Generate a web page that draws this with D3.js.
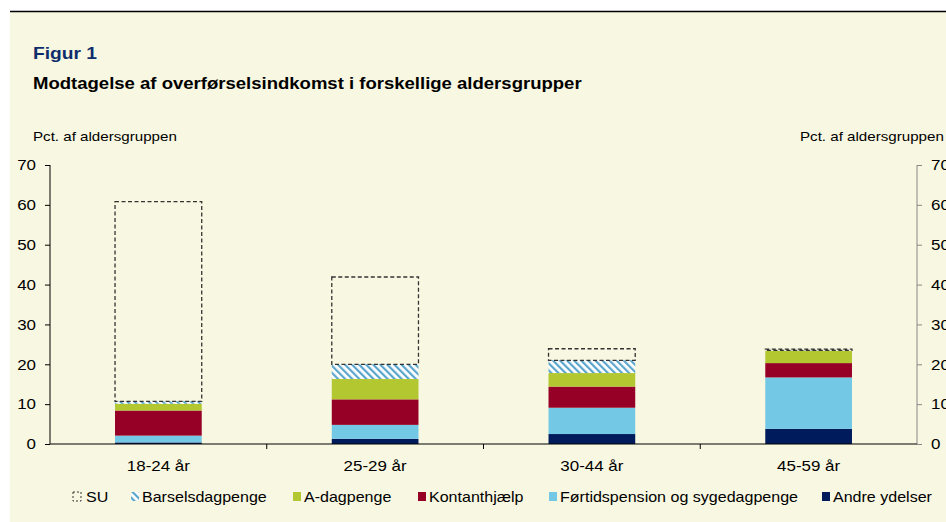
<!DOCTYPE html>
<html>
<head>
<meta charset="utf-8">
<script src="https://cdn.jsdelivr.net/npm/d3@7"></script>
<style>
  body { margin: 0; background: #fff; }
  svg { display: block; font-family: "Liberation Sans", Arial, sans-serif; }
</style>
</head>
<body>
<div id="chart"></div>
<script>
// data (pct. of age group)
var groups = ["18-24 år", "25-29 år", "30-44 år", "45-59 år"];
var andre = [0.4, 1.3, 2.5, 3.8];
var foertid = [1.7, 3.5, 6.6, 12.9];
var kontant = [6.3, 6.4, 5.3, 3.6];
var adag = [1.7, 5.1, 3.4, 3.1];
var barsel = [0.6, 3.7, 3.2, 0.1];
var su = [50.1, 21.9, 2.9, 0.3];
var seriesNames = ["Andre ydelser", "Førtidspension og sygedagpenge", "Kontanthjælp", "A-dagpenge", "Barselsdagpenge", "SU"];
var yTicks = [0, 10, 20, 30, 40, 50, 60, 70];

var colors = ["#001b5b", "#73c8e6", "#960027", "#b2c730", "url(#hatch)", "none"];

var W = 946, H = 522;
var plotLeft = 50, plotRight = 917, plotTop = 165, plotBottom = 444;
var stretch = 1.13; // reference text is a bit wider than Liberation Sans

var svg = d3.select("#chart").append("svg")
  .attr("width", W).attr("height", H);

// hatch for Barselsdagpenge
var defs = svg.append("defs");
var pat = defs.append("pattern")
  .attr("id", "hatch")
  .attr("patternUnits", "userSpaceOnUse")
  .attr("width", 5).attr("height", 5)
  .attr("patternTransform", "rotate(-45)");
pat.append("rect").attr("width", 5).attr("height", 5).attr("fill", "#ffffff");
pat.append("rect").attr("width", 2.2).attr("height", 5).attr("fill", "#5aa5cc");

// background panel
svg.append("rect")
  .attr("x", 10).attr("y", 11).attr("width", W - 10).attr("height", H - 11)
  .attr("fill", "#f8f7e1");
svg.append("line")
  .attr("x1", 10).attr("x2", W).attr("y1", 11.5).attr("y2", 11.5)
  .attr("stroke", "#000").attr("stroke-width", 1.5);

// titles
svg.append("text").attr("x", 33).attr("y", 59)
  .attr("font-size", 17).attr("font-weight", "bold").attr("fill", "#0f2d6b")
  .text("Figur 1");
svg.append("text").attr("x", 33).attr("y", 89)
  .attr("font-size", 16.4).attr("font-weight", "bold").attr("fill", "#000")
  .text("Modtagelse af overførselsindkomst i forskellige aldersgrupper");
svg.append("text").attr("x", 33).attr("y", 141)
  .attr("font-size", 13.4).attr("fill", "#000")
  .text("Pct. af aldersgruppen");
svg.append("text").attr("x", 800).attr("y", 141)
  .attr("font-size", 13.4).attr("fill", "#000")
  .text("Pct. af aldersgruppen");

// scales
var x = d3.scaleBand().domain(groups).range([plotLeft, plotRight]).paddingInner(0.6).paddingOuter(0.3);
var y = d3.scaleLinear().domain([0, 70]).range([plotBottom, plotTop]);

// stacked data
var rows = groups.map(function(g, i) {
  return {group: g, s0: andre[i], s1: foertid[i], s2: kontant[i], s3: adag[i], s4: barsel[i], s5: su[i]};
});
var stack = d3.stack().keys(["s0", "s1", "s2", "s3", "s4", "s5"])(rows);

var layers = svg.selectAll(".layer")
  .data(stack)
  .enter().append("g")
    .attr("class", "layer");

layers.selectAll("rect")
  .data(function(d, k) { return d.map(function(p) { return {p: p, k: k}; }); })
  .enter().append("rect")
    .attr("x", function(d) { return x(d.p.data.group); })
    .attr("width", x.bandwidth())
    .attr("y", function(d) { return y(d.p[1]); })
    .attr("height", function(d) { return y(d.p[0]) - y(d.p[1]); })
    .attr("fill", function(d) { return colors[d.k]; })
    .attr("stroke", function(d) { return d.k == 5 ? "#333" : "none"; })
    .attr("stroke-width", function(d) { return d.k == 5 ? 1.3 : 0; })
    .attr("stroke-dasharray", function(d) { return d.k == 5 ? "4,2.5" : null; });

// left axis
var yAxisL = svg.append("g")
  .attr("transform", "translate(" + plotLeft + ",0)")
  .call(d3.axisLeft(y).tickValues(yTicks).tickSize(5).tickPadding(9));
yAxisL.select(".domain").attr("stroke", "#000").attr("d", "M0," + plotTop + "V" + plotBottom);
yAxisL.selectAll("text").attr("font-size", 15).attr("fill", "#000").attr("font-family", "Liberation Sans, Arial, sans-serif");

// right axis
var yAxisR = svg.append("g")
  .attr("transform", "translate(" + plotRight + ",0)")
  .call(d3.axisRight(y).tickValues(yTicks).tickSize(5).tickPadding(9));
yAxisR.select(".domain").attr("stroke", "#888").attr("d", "M0," + plotTop + "V" + plotBottom);
yAxisR.selectAll(".tick line").attr("stroke", "#888");
yAxisR.selectAll("text").attr("font-size", 15).attr("fill", "#000").attr("font-family", "Liberation Sans, Arial, sans-serif");

// x axis with ticks between groups
var xAxis = svg.append("g").attr("transform", "translate(0," + plotBottom + ")");
xAxis.append("line").attr("x1", plotLeft).attr("x2", plotRight).attr("stroke", "#000").attr("stroke-width", 1.2);
var step = x.step();
xAxis.selectAll(".sep")
  .data(groups.slice(1))
  .enter().append("line")
    .attr("x1", function(d) { return x(d) - (step - x.bandwidth()) / 2; })
    .attr("x2", function(d) { return x(d) - (step - x.bandwidth()) / 2; })
    .attr("y1", 0).attr("y2", 5)
    .attr("stroke", "#000");
xAxis.selectAll(".lbl")
  .data(groups)
  .enter().append("text")
    .attr("x", function(d) { return x(d) + x.bandwidth() / 2; })
    .attr("y", 27)
    .attr("text-anchor", "middle")
    .attr("font-size", 15)
    .text(function(d) { return d; });

// legend
var legendOrder = [5, 4, 3, 2, 1, 0];
var legendX = [73, 131, 293, 418, 549, 822];
var leg = svg.selectAll(".leg")
  .data(legendOrder)
  .enter().append("g")
    .attr("transform", function(d, i) { return "translate(" + legendX[i] + ",492)"; });
leg.append("rect")
  .attr("width", 8).attr("height", 9)
  .attr("fill", function(k) { return colors[k]; })
  .attr("stroke", function(k) { return k == 5 ? "#333" : "none"; })
  .attr("stroke-dasharray", function(k) { return k == 5 ? "2,2" : null; });
leg.append("text")
  .attr("x", function(k) { return k == 5 ? 13 : 11; })
  .attr("y", 10)
  .attr("font-size", 14.2)
  .text(function(k) { return seriesNames[k]; });

// widen all text a little to match the reference's glyph widths
svg.selectAll("text").each(function() {
  var len = this.getComputedTextLength();
  d3.select(this).attr("textLength", len * stretch).attr("lengthAdjust", "spacingAndGlyphs");
});
</script>
</body>
</html>
